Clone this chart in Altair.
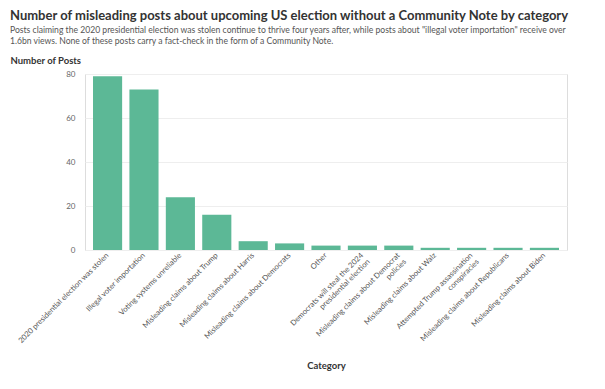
import altair as alt
import pandas as pd

categories = [
    "2020 presidential election was stolen",
    "Illegal voter importation",
    "Voting systems unreliable",
    "Misleading claims about Trump",
    "Misleading claims about Harris",
    "Misleading claims about Democrats",
    "Other",
    "Democrats will steal the 2024|presidential election",
    "Misleading claims about Democrat|policies",
    "Misleading claims about Walz",
    "Attempted Trump assassination|conspiracies",
    "Misleading claims about Republicans",
    "Misleading claims about Biden",
]
values = [79, 73, 24, 16, 4, 3, 2, 2, 2, 1, 1, 1, 1]
y_ticks = [0, 20, 40, 60, 80]

df = pd.DataFrame({"Category": categories, "Posts": values})

FONT = "Lato"

chart = alt.Chart(df).mark_bar(color="#5cb896").encode(
    x=alt.X(
        "Category:N",
        sort=categories,
        scale=alt.Scale(paddingInner=0.2, paddingOuter=0.22),
        axis=alt.Axis(
            title="Category",
            labelAngle=-45,
            labelAlign="right",
            labelBaseline="middle",
            labelExpr="split(datum.label, '|')",
            labelFontSize=7.6,
            labelLineHeight=9,
            labelColor="#555555",
            labelFont=FONT,
            labelPadding=4,
            ticks=False,
            domain=False,
            titleFont=FONT,
            titleFontSize=9.5,
            titleColor="#333333",
            titleFontWeight="bold",
            titlePadding=16,
        ),
    ),
    y=alt.Y(
        "Posts:Q",
        scale=alt.Scale(domain=[0, 80], nice=False),
        axis=alt.Axis(
            values=y_ticks,
            title="Number of Posts",
            titleAngle=0,
            titleAlign="left",
            titleBaseline="bottom",
            titleX=-75,
            titleY=-9,
            titleFont=FONT,
            titleFontSize=9.5,
            titleColor="#333333",
            titleFontWeight="bold",
            labelFont=FONT,
            labelFontSize=8,
            labelColor="#666666",
            ticks=False,
            domain=False,
            gridColor="#eeeeee",
            labelPadding=10,
        ),
    ),
).properties(
    width=482,
    height=176,
    title=alt.TitleParams(
        text="Number of misleading posts about upcoming US election without a Community Note by category",
        subtitle=[
            "Posts claiming the 2020 presidential election was stolen continue to thrive four years after, while posts about \"illegal voter importation\" receive over",
            "1.6bn views. None of these posts carry a fact-check in the form of a Community Note.",
        ],
        anchor="start",
        frame="group",
        font=FONT,
        fontSize=13,
        fontWeight="bold",
        color="#333333",
        subtitleFont=FONT,
        subtitleFontSize=8.6,
        subtitleLineHeight=11.5,
        subtitleColor="#555555",
        subtitlePadding=3,
        offset=9,
        dx=-75,
    ),
).configure_view(stroke=None).configure(background="white", padding={"left": 2, "top": 1, "right": 5, "bottom": 5})

chart.save("out.html", embed_options={"renderer": "svg", "actions": False})
